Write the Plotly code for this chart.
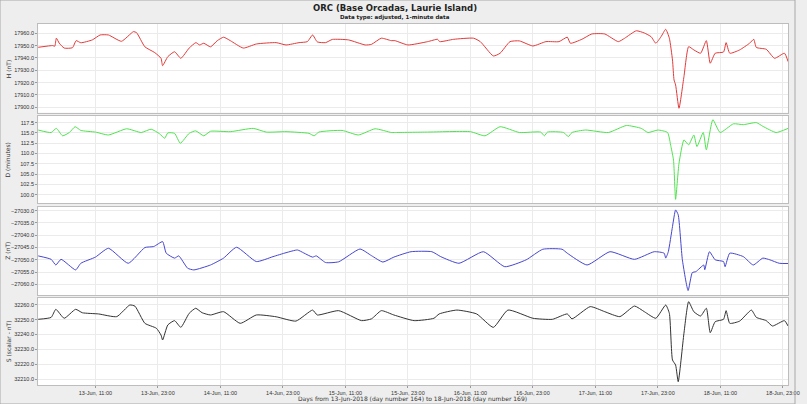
import plotly.graph_objects as go

# ---------------- data (hours since 13-Jun-2018 00:00 UT) ----------------
h_time = [0.0, 2.8, 3.2, 3.5, 4.05, 5.0, 6.6, 7.3, 8.2, 10.4, 11.9, 13.5, 16.0, 18.3, 18.9,
          20.5, 22.4, 23.6, 23.9, 24.9, 26.2, 27.4, 29.0, 30.3, 31.0, 31.8, 33.1, 34.4, 35.6,
          36.9, 39.4, 41.9, 45.7, 47.6, 50.1, 51.7, 52.7, 53.6, 55.2, 56.5, 59.6, 62.8, 64.0,
          65.9, 67.8, 68.5, 71.0, 74.8, 76.7, 77.1, 79.8, 83.6, 84.9, 87.4, 88.7, 90.6, 92.4,
          95.0, 97.5, 100.0, 101.6, 102.2, 104.4, 106.3, 108.8, 111.4, 112.6, 114.85, 116.4,
          117.7, 118.6, 119.6, 120.5, 121.2, 121.8, 122.1, 122.4, 123.05, 124.0, 124.9, 125.9,
          127.2, 128.3, 129.05, 130.0, 131.6, 132.1, 132.8, 134.7, 136.6, 137.4, 137.9, 139.8,
          141.4, 143.3, 144.0]
h_vals = [17948.6, 17950.0, 17949.5, 17956.0, 17952.0, 17948.0, 17948.3, 17954.0, 17952.3,
          17954.6, 17958.6, 17958.6, 17953.5, 17961.3, 17960.5, 17949.0, 17944.3, 17939.7,
          17933.7, 17941.0, 17945.0, 17939.7, 17948.0, 17952.4, 17950.5, 17951.9, 17949.0,
          17954.0, 17956.8, 17954.0, 17948.0, 17951.3, 17952.4, 17950.5, 17952.4, 17953.2,
          17958.6, 17953.0, 17952.4, 17955.0, 17954.6, 17950.5, 17951.0, 17956.0, 17954.0,
          17954.0, 17950.5, 17953.2, 17955.1, 17953.2, 17955.1, 17956.0, 17953.2, 17941.6,
          17943.8, 17953.2, 17953.8, 17949.7, 17953.2, 17953.2, 17956.8, 17951.9, 17955.1,
          17959.4, 17959.4, 17953.2, 17955.9, 17962.0, 17960.2, 17957.2, 17951.9, 17957.2,
          17963.2, 17956.0, 17938.3, 17922.1, 17918.1, 17899.2, 17924.8, 17949.1, 17946.5,
          17943.8, 17954.0, 17935.7, 17943.8, 17944.8, 17952.4, 17943.8, 17946.5, 17951.9,
          17955.1, 17948.5, 17947.0, 17939.7, 17943.8, 17937.0]

d_time = [0.0, 2.5, 3.5, 4.7, 6.0, 7.1, 8.2, 11.0, 13.5, 17.0, 19.8, 21.7, 23.3, 24.3, 24.9,
          26.2, 27.3, 29.0, 30.25, 31.8, 33.1, 36.9, 41.3, 43.8, 47.6, 52.0, 53.0, 53.9, 58.35,
          61.5, 64.7, 67.8, 68.45, 74.75, 83.0, 85.8, 88.7, 92.4, 96.5, 97.2, 97.8, 100.9,
          101.8, 102.5, 105.1, 109.5, 112.95, 115.8, 117.1, 119.0, 120.85, 121.5, 122.0, 122.4,
          123.05, 124.0, 124.9, 125.9, 126.5, 127.7, 128.3, 129.55, 130.95, 133.5, 135.4,
          137.9, 139.15, 141.7, 144.0]
d_vals = [115.7, 115.1, 116.1, 114.3, 115.1, 116.5, 115.6, 115.2, 114.5, 116.0, 115.1, 115.9,
          114.8, 113.7, 115.0, 114.9, 112.5, 114.9, 115.5, 114.3, 115.4, 115.3, 116.1, 115.2,
          115.3, 114.9, 114.3, 115.2, 115.6, 114.5, 116.0, 115.1, 115.1, 115.2, 115.3, 114.3,
          116.5, 115.1, 115.2, 114.3, 115.2, 115.1, 114.1, 115.1, 115.7, 115.1, 116.8, 116.1,
          115.1, 115.7, 115.1, 111.7, 108.4, 98.9, 107.6, 113.3, 112.1, 114.5, 111.7, 115.1,
          110.9, 118.2, 115.1, 117.2, 117.0, 117.5, 116.6, 115.1, 116.1]

z_time = [0.0, 2.5, 3.4, 4.4, 7.2, 8.2, 11.0, 13.5, 17.3, 20.5, 22.2, 23.9, 24.6, 26.2, 27.0,
          28.7, 29.9, 33.1, 35.6, 38.1, 41.9, 45.1, 47.6, 49.8, 51.0, 52.7, 53.4, 55.2, 57.7,
          61.8, 64.0, 66.2, 68.3, 71.6, 75.6, 77.3, 80.8, 85.5, 89.6, 93.7, 96.9, 100.6, 101.6,
          105.4, 109.8, 114.5, 118.3, 120.2, 120.5, 121.0, 121.8, 122.4, 122.9, 123.7, 124.8,
          125.6, 126.3, 127.8, 128.0, 128.9, 130.0, 131.6, 131.9, 132.8, 135.4, 137.3, 139.15,
          140.5, 142.3, 144.0]
z_vals = [-27048.4, -27049.8, -27052.1, -27049.8, -27054.1, -27051.4, -27048.9, -27045.3,
          -27051.4, -27045.0, -27044.6, -27042.6, -27047.3, -27049.3, -27048.4, -27053.4,
          -27054.1, -27052.1, -27049.3, -27044.9, -27050.7, -27048.7, -27047.1, -27046.0,
          -27047.2, -27048.9, -27048.4, -27051.1, -27050.8, -27045.6, -27048.3, -27050.9,
          -27048.9, -27046.7, -27046.7, -27048.7, -27051.4, -27046.7, -27052.8, -27050.0,
          -27045.7, -27045.7, -27047.3, -27052.1, -27046.7, -27049.8, -27046.7, -27047.3,
          -27049.3, -27046.7, -27036.5, -27029.7, -27031.7, -27050.0, -27062.5, -27055.2,
          -27054.8, -27052.1, -27054.0, -27046.7, -27050.0, -27050.7, -27052.8, -27047.3,
          -27048.7, -27052.1, -27049.3, -27050.0, -27051.4, -27051.5]

s_time = [0.0, 2.5, 3.4, 5.0, 7.2, 8.5, 11.6, 15.1, 17.6, 18.6, 20.5, 22.7, 23.6, 23.9, 24.9,
          26.2, 27.4, 29.0, 30.25, 31.5, 33.1, 35.6, 38.8, 41.9, 45.7, 49.5, 52.7, 53.6, 57.7,
          62.1, 64.0, 65.9, 68.3, 72.2, 76.0, 77.0, 80.4, 84.2, 87.4, 90.2, 95.0, 98.75, 101.6,
          102.5, 106.0, 108.8, 111.7, 114.5, 116.4, 118.6, 120.5, 121.2, 121.8, 122.4, 122.9,
          124.0, 124.9, 125.9, 127.2, 128.3, 129.05, 130.0, 131.6, 132.1, 132.8, 134.7, 136.95,
          137.9, 139.8, 141.0, 143.3, 144.0]
s_vals = [32250.2, 32251.5, 32256.9, 32250.9, 32256.9, 32254.6, 32253.8, 32252.0, 32259.8,
          32259.0, 32247.5, 32244.2, 32239.6, 32236.3, 32246.4, 32249.3, 32244.8, 32254.2,
          32257.6, 32254.6, 32253.1, 32255.3, 32247.5, 32253.1, 32251.9, 32249.0, 32256.4,
          32253.1, 32256.0, 32249.3, 32250.5, 32256.0, 32253.1, 32249.3, 32250.9, 32253.8,
          32256.4, 32253.8, 32244.8, 32256.4, 32250.9, 32250.2, 32253.8, 32250.5, 32258.7,
          32255.3, 32252.0, 32259.1, 32255.3, 32250.9, 32259.8, 32254.2, 32222.9, 32219.5,
          32208.3, 32240.8, 32262.0, 32255.3, 32252.4, 32257.6, 32241.2, 32248.6, 32250.2,
          32256.0, 32247.5, 32249.0, 32256.4, 32251.5, 32249.3, 32245.7, 32249.3, 32245.7]

x_tick_hours = [11, 23, 35, 47, 59, 71, 83, 95, 107, 119, 131, 143]
x_tick_labels = ["13-Jun, 11:00", "13-Jun, 23:00", "14-Jun, 11:00", "14-Jun, 23:00",
                 "15-Jun, 11:00", "15-Jun, 23:00", "16-Jun, 11:00", "16-Jun, 23:00",
                 "17-Jun, 11:00", "17-Jun, 23:00", "18-Jun, 11:00", "18-Jun, 23:00"]

panel_titles = ["H (nT)", "D (minutes)", "Z (nT)", "S (scalar - nT)"]
title_text = "ORC (Base Orcadas, Laurie Island)"
subtitle_text = "Data type: adjusted, 1-minute data"
x_title_text = "Days from 13-Jun-2018 (day number 164) to 18-Jun-2018 (day number 169)"

# ---------------- layout helpers ----------------
W, H = 807, 404
FONT = "DejaVu Sans"
TICKFONT = "Liberation Sans"

def py(px):
    return 1 - px / H

x_dom = [38.7 / W, 800 / W]
panels = [  # (top px, bottom px, y range, tick0, dtick, color)
    (24.0, 112.7, [17895.6, 17967.5], 17900, 10, "#e23a3a"),
    (116.0, 203.3, [97.94, 119.1], 100, 2.5, "#4ee34e"),
    (206.7, 295.0, [-27064.3, -27028.4], -27060, 5, "#4646cf"),
    (297.7, 385.0, [32206.1, 32264.7], 32210, 10, "#333333"),
]
series = [(h_time, h_vals), (d_time, d_vals), (z_time, z_vals), (s_time, s_vals)]

fig = go.Figure()
layout = dict(
    width=W, height=H,
    margin=dict(l=0, r=0, t=0, b=0),
    paper_bgcolor="#eeeeee", plot_bgcolor="#ffffff",
    showlegend=False,
    font=dict(family=FONT, size=6, color="#333333"),
)
annotations = []
GRID = "#ebebeb"
for i, ((top, bot, yr, t0, dt, col), (tx, ty)) in enumerate(zip(panels, series)):
    n = i + 1
    xa = "x" if n == 1 else f"x{n}"
    ya = "y" if n == 1 else f"y{n}"
    fig.add_trace(go.Scatter(x=tx, y=ty, mode="lines",
                             line=dict(color=col, width=1, shape="spline", smoothing=0.5),
                             xaxis=xa, yaxis=ya, hoverinfo="skip"))
    last = (n == 4)
    layout["xaxis" if n == 1 else f"xaxis{n}"] = dict(
        domain=x_dom, range=[0, 144], anchor=ya, matches=None if n == 1 else "x",
        tickvals=x_tick_hours, ticktext=x_tick_labels, showticklabels=last,
        ticklabeloverflow="allow",
        ticks="outside" if last else "", ticklen=2, tickcolor="#999999",
        tickfont=dict(family=TICKFONT, size=5.5, color="#333333"),
        showgrid=True, gridcolor=GRID, gridwidth=1, zeroline=False,
        showline=True, linecolor="#bdbdbd", linewidth=1, mirror=True,
    )
    layout["yaxis" if n == 1 else f"yaxis{n}"] = dict(
        domain=[py(bot), py(top)], range=yr, anchor=xa,
        tick0=t0, dtick=dt, tickformat=".1f",
        ticks="outside", ticklen=2, tickcolor="#999999",
        tickfont=dict(family=TICKFONT, size=5.5, color="#333333"),
        showgrid=True, gridcolor=GRID, gridwidth=1, zeroline=False,
        showline=True, linecolor="#bdbdbd", linewidth=1, mirror=True,
    )
    annotations.append(dict(text=panel_titles[i], x=8 / W, y=py((top + bot) / 2),
                            xref="paper", yref="paper", xanchor="center", yanchor="middle",
                            textangle=-90, showarrow=False,
                            font=dict(size=6, color="#333333")))

annotations += [
    dict(text="<b>" + title_text + "</b>", x=401 / W, y=py(8), xref="paper", yref="paper",
         xanchor="center", yanchor="middle",
         showarrow=False, font=dict(size=8.5, color="#222222")),
    dict(text="<b>" + subtitle_text + "</b>", x=401 / W, y=py(17.5), xref="paper", yref="paper",
         xanchor="center", yanchor="middle",
         showarrow=False, font=dict(size=5.5, color="#222222")),
    dict(text=x_title_text, x=419 / W, y=py(398.5), xref="paper", yref="paper",
         xanchor="center", yanchor="middle",
         showarrow=False, font=dict(size=6, color="#333333")),
]
layout["annotations"] = annotations
layout["shapes"] = [dict(type="rect", xref="paper", yref="paper", x0=0, y0=0, x1=1, y1=1,
                         line=dict(color="#a8a8a8", width=1), fillcolor="rgba(0,0,0,0)")]
fig.update_layout(**layout)
fig.write_html("out.html")
